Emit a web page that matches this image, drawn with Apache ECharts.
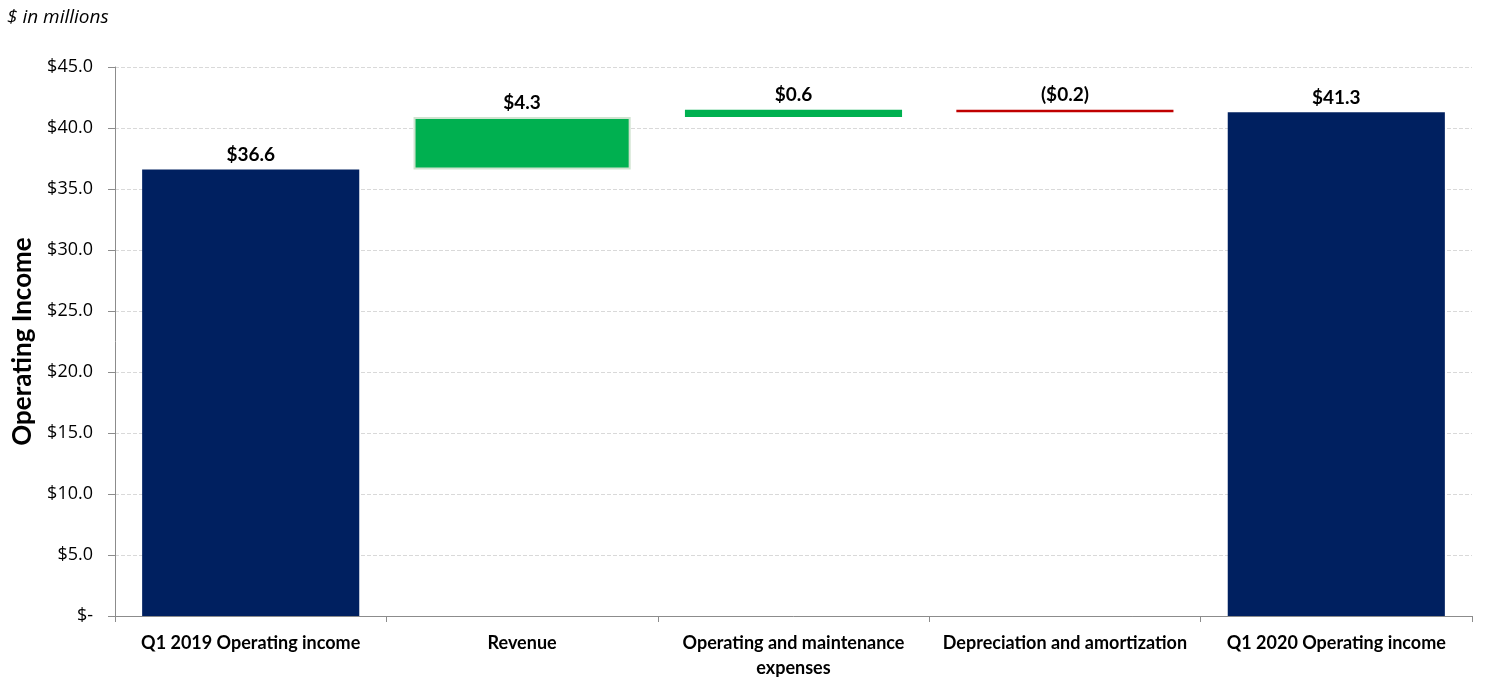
<!DOCTYPE html>
<html><head><meta charset="utf-8">
<script src="https://cdn.jsdelivr.net/npm/echarts@6/dist/echarts.min.js"></script>
<style>html,body{margin:0;padding:0;background:#fff}#c{width:1485px;height:683px}</style>
</head><body><div id="c"></div>
<script>
const categories = ['Q1 2019 Operating income', 'Revenue', 'Operating and maintenance\nexpenses', 'Depreciation and amortization', 'Q1 2020 Operating income'];
const values = [36.6, 4.3, 0.6, -0.2, 41.3];
const kinds = ['total', 'delta', 'delta', 'delta', 'total'];
const yTicks = [0, 5, 10, 15, 20, 25, 30, 35, 40, 45];

const NAVY = '#002060', GREEN = '#00B050', RED = '#C00000';
let running = 0;
const baseData = [], barData = [];
values.forEach((v, i) => {
  if (kinds[i] === 'total') {
    running = v;
    baseData.push(0);
    barData.push({ value: v, itemStyle: { color: NAVY } });
  } else {
    const start = running, end = running + v;
    running = end;
    baseData.push(Math.min(start, end));
    const st = v >= 0 ? { color: GREEN } : { color: RED };
    if (i === 1) { st.borderColor = '#cfe3cf'; st.borderWidth = 2; }
    barData.push({ value: Math.abs(v), itemStyle: st });
  }
});
function fmt(v) { return v < 0 ? '($' + Math.abs(v).toFixed(1) + ')' : '$' + v.toFixed(1); }

const chart = echarts.init(document.getElementById('c'));
chart.setOption({
  animation: false,
  title: { text: '$ in millions', left: 2, top: 3, textStyle: { fontFamily: 'Open Sans', fontStyle: 'italic', fontWeight: 'normal', fontSize: 19, color: '#000' } },
  grid: { left: 115, right: 13, top: 67, bottom: 67, containLabel: false, outerBoundsMode: 'none' },
  xAxis: {
    type: 'category', data: categories,
    axisLine: { lineStyle: { color: '#8c8c8c', width: 1 } },
    axisTick: { show: true, alignWithLabel: false, length: 6, lineStyle: { color: '#8c8c8c' } },
    axisLabel: { interval: 0, margin: 15, fontFamily: 'Lato', fontWeight: 'bold', fontSize: 18, color: '#000', lineHeight: 25 }
  },
  yAxis: {
    type: 'value', min: 0, max: 45, interval: 5,
    name: 'Operating Income', nameLocation: 'middle', nameGap: 79, nameRotate: 90,
    nameTextStyle: { fontFamily: 'Lato', fontWeight: 'bold', fontSize: 26, color: '#000' },
    axisLine: { show: true, lineStyle: { color: '#8c8c8c' } },
    axisTick: { show: true, length: 7, lineStyle: { color: '#8c8c8c' } },
    axisLabel: { margin: 22, fontFamily: 'Open Sans', fontSize: 18, color: '#000',
      formatter: v => yTicks.includes(v) ? (v === 0 ? '$-' : '$' + v.toFixed(1)) : '' },
    splitLine: { show: true, lineStyle: { type: 'dashed', color: '#d9d9d9' } }
  },
  series: [
    { type: 'bar', stack: 'w', data: baseData, itemStyle: { color: 'transparent' }, barCategoryGap: '20%', silent: true },
    { type: 'bar', stack: 'w', data: barData, barCategoryGap: '20%',
      label: { show: true, position: 'top', distance: 5, fontFamily: 'Lato', fontWeight: 'bold', fontSize: 19, color: '#000',
        formatter: p => fmt(values[p.dataIndex]) } }
  ]
});
</script></body></html>
